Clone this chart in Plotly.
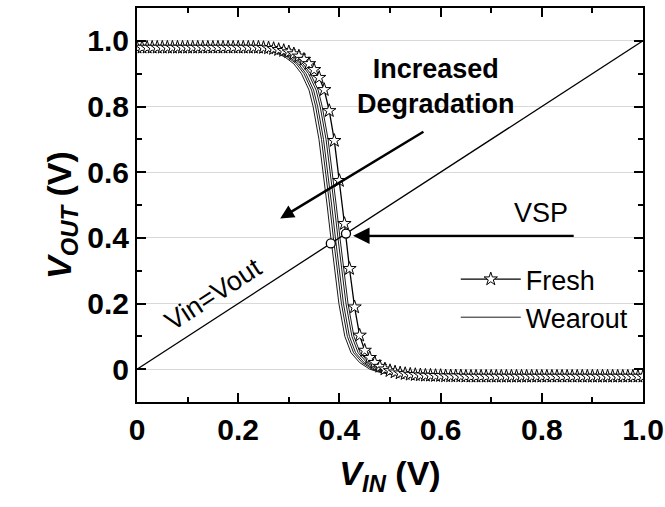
import plotly.graph_objects as go

# ---------------- data ----------------
fresh_vin = [0.00, 0.01, 0.02, 0.03, 0.04, 0.05, 0.06, 0.07, 0.08, 0.09,
             0.10, 0.11, 0.12, 0.13, 0.14, 0.15, 0.16, 0.17, 0.18, 0.19,
             0.20, 0.21, 0.22, 0.23, 0.24, 0.25, 0.26, 0.27, 0.28, 0.29,
             0.30, 0.31, 0.32, 0.33, 0.34, 0.35, 0.36, 0.37, 0.38, 0.39,
             0.40, 0.41, 0.42, 0.43, 0.44, 0.45, 0.46, 0.47, 0.48, 0.49,
             0.50, 0.51, 0.52, 0.53, 0.54, 0.55, 0.56, 0.57, 0.58, 0.59,
             0.60, 0.61, 0.62, 0.63, 0.64, 0.65, 0.66, 0.67, 0.68, 0.69,
             0.70, 0.71, 0.72, 0.73, 0.74, 0.75, 0.76, 0.77, 0.78, 0.79,
             0.80, 0.81, 0.82, 0.83, 0.84, 0.85, 0.86, 0.87, 0.88, 0.89,
             0.90, 0.91, 0.92, 0.93, 0.94, 0.95, 0.96, 0.97, 0.98, 0.99, 1.00]
fresh_vout = [0.980, 0.980, 0.980, 0.980, 0.980, 0.980, 0.980, 0.980, 0.980, 0.980,
              0.980, 0.980, 0.980, 0.980, 0.980, 0.980, 0.980, 0.980, 0.980, 0.980,
              0.980, 0.980, 0.980, 0.980, 0.980, 0.979, 0.978, 0.976, 0.973, 0.970,
              0.966, 0.960, 0.953, 0.943, 0.930, 0.912, 0.888, 0.851, 0.787, 0.696,
              0.574, 0.443, 0.306, 0.189, 0.103, 0.057, 0.035, 0.020, 0.008, 0.000,
              -0.005, -0.009, -0.012, -0.014, -0.016, -0.017, -0.018, -0.019, -0.019, -0.020,
              -0.020, -0.021, -0.021, -0.021, -0.021, -0.022, -0.022, -0.022, -0.022, -0.022,
              -0.022, -0.022, -0.022, -0.022, -0.022, -0.022, -0.022, -0.022, -0.022, -0.022,
              -0.022, -0.022, -0.022, -0.022, -0.022, -0.022, -0.022, -0.022, -0.022, -0.022,
              -0.022, -0.022, -0.022, -0.022, -0.022, -0.022, -0.022, -0.022, -0.022, -0.022, -0.022]

# Wearout curves: Vin at each Vout level
wear_vout = [0.980, 0.980, 0.975, 0.970, 0.960, 0.950, 0.930, 0.900, 0.850, 0.800,
             0.700, 0.600, 0.500, 0.400, 0.300, 0.200, 0.100, 0.050, 0.020, 0.000,
             -0.010, -0.015, -0.020, -0.022, -0.022]
wear1_vin = [0.0, 0.228, 0.258, 0.278, 0.298, 0.311, 0.328, 0.343, 0.358, 0.366,
             0.3776, 0.386, 0.3937, 0.4011, 0.4085, 0.417, 0.4287, 0.441, 0.458, 0.478,
             0.498, 0.518, 0.568, 0.668, 1.0]
wear2_vin = [0.0, 0.224, 0.254, 0.274, 0.294, 0.307, 0.324, 0.339, 0.354, 0.362,
             0.3736, 0.382, 0.3897, 0.3971, 0.4045, 0.413, 0.4247, 0.437, 0.454, 0.474,
             0.494, 0.514, 0.564, 0.664, 1.0]
wear3_vin = [0.0, 0.219, 0.249, 0.269, 0.289, 0.302, 0.319, 0.334, 0.349, 0.357,
             0.3686, 0.377, 0.3847, 0.3921, 0.3995, 0.408, 0.4197, 0.432, 0.449, 0.469,
             0.489, 0.509, 0.559, 0.659, 1.0]
wear4_vin = [0.0, 0.215, 0.245, 0.265, 0.285, 0.298, 0.315, 0.330, 0.345, 0.353,
             0.3646, 0.373, 0.3807, 0.3881, 0.3955, 0.404, 0.4157, 0.428, 0.445, 0.465,
             0.485, 0.505, 0.555, 0.655, 1.0]
wear5_vin = [0.0, 0.210, 0.240, 0.260, 0.280, 0.293, 0.310, 0.325, 0.340, 0.348,
             0.3596, 0.368, 0.3757, 0.3831, 0.3905, 0.399, 0.4107, 0.423, 0.440, 0.460,
             0.480, 0.500, 0.550, 0.650, 1.0]
wear_curves = [wear1_vin, wear2_vin, wear3_vin, wear4_vin, wear5_vin]

diag_x = [0.0, 1.0]
diag_y = [0.0, 1.0]

vsp_x = [0.383, 0.413]
vsp_y = [0.383, 0.413]

x_ticks = [0, 0.2, 0.4, 0.6, 0.8, 1.0]
x_ticktext = ["0", "0.2", "0.4", "0.6", "0.8", "1.0"]
y_ticks = [0, 0.2, 0.4, 0.6, 0.8, 1.0]
y_ticktext = ["0", "0.2", "0.4", "0.6", "0.8", "1.0"]
x_minor = [0.1, 0.3, 0.5, 0.7, 0.9]
y_minor = [-0.1, 0.1, 0.3, 0.5, 0.7, 0.9, 1.1]

FONT = "Liberation Sans, Arial, sans-serif"

fig = go.Figure()

fig.add_trace(go.Scatter(x=diag_x, y=diag_y, mode="lines",
                         line=dict(color="black", width=1.3),
                         showlegend=False, hoverinfo="skip"))

for i, wx in enumerate(wear_curves):
    fig.add_trace(go.Scatter(x=wx, y=wear_vout, mode="lines",
                             line=dict(color="black", width=0.9),
                             name="Wearout", legendgroup="w",
                             legendrank=2, showlegend=(i == 0)))

fig.add_trace(go.Scatter(x=fresh_vin, y=fresh_vout, mode="lines+markers",
                         line=dict(color="black", width=1.3),
                         marker=dict(symbol="star", size=10, color="white",
                                     line=dict(color="black", width=1)),
                         name="Fresh", legendgroup="f", legendrank=1))

fig.add_trace(go.Scatter(x=vsp_x, y=vsp_y, mode="markers",
                         marker=dict(symbol="circle", size=9, color="white",
                                     line=dict(color="black", width=1.3)),
                         showlegend=False))

axis_common = dict(
    showline=True, linecolor="black", linewidth=2, mirror="allticks",
    ticks="inside", ticklen=9, tickwidth=2, tickcolor="black",
    tickfont=dict(family=FONT, size=30, color="black", weight="bold"),
    zeroline=False, automargin=False,
)

fig.update_xaxes(
    range=[0, 1.0], tickmode="array", tickvals=x_ticks, ticktext=x_ticktext,
    showgrid=False,
    minor=dict(tickmode="array", tickvals=x_minor, ticks="inside", ticklen=5,
               tickwidth=2, tickcolor="black", showgrid=False),
    title=dict(text="<b><i>V</i><sub><i>IN</i></sub> (V)</b>",
               font=dict(family=FONT, size=34, color="black"), standoff=16),
    **axis_common)

fig.update_yaxes(
    range=[-0.1, 1.1], tickmode="array", tickvals=y_ticks, ticktext=y_ticktext,
    showgrid=True, gridcolor="#d9d9d9", gridwidth=1,
    minor=dict(tickmode="array", tickvals=y_minor, ticks="inside", ticklen=5,
               tickwidth=2, tickcolor="black", showgrid=False),
    **axis_common)

# y-axis title as a rotated annotation (placed slightly below plot centre as in the reference)
fig.add_annotation(x=-0.148, y=0.475, xref="paper", yref="paper",
                   xanchor="center", yanchor="middle",
                   text="<b><i>V</i><sub><i>OUT</i></sub> (V)</b>",
                   showarrow=False, textangle=-90,
                   font=dict(family=FONT, size=34, color="black"))

fig.add_annotation(x=0.591, y=0.862, xref="x", yref="y",
                   text="<b>Increased<br>Degradation</b>", showarrow=False,
                   font=dict(family=FONT, size=27, color="black"))
fig.add_annotation(x=0.283, y=0.459, ax=0.569, ay=0.726, xref="x", yref="y",
                   axref="x", ayref="y", text="", showarrow=True,
                   arrowhead=2, arrowsize=1.1, arrowwidth=2.5, arrowcolor="black")
fig.add_annotation(x=0.427, y=0.406, ax=0.866, ay=0.406, xref="x", yref="y",
                   axref="x", ayref="y", text="", showarrow=True,
                   arrowhead=2, arrowsize=1.5, arrowwidth=2.2, arrowcolor="black")
fig.add_annotation(x=0.798, y=0.475, xref="x", yref="y", text="VSP",
                   showarrow=False, font=dict(family=FONT, size=27, color="black"))
fig.add_annotation(x=0.152, y=0.228, xref="x", yref="y", text="Vin=Vout",
                   showarrow=False, textangle=-33,
                   font=dict(family=FONT, size=27, color="black"))

fig.update_layout(
    width=665, height=507,
    margin=dict(l=137, r=22, t=8, b=105),
    paper_bgcolor="white", plot_bgcolor="white",
    font=dict(family=FONT, color="black"),
    showlegend=True,
    legend=dict(x=0.63, y=0.373, xanchor="left", yanchor="top",
                bgcolor="rgba(0,0,0,0)", borderwidth=0,
                font=dict(family=FONT, size=27, color="black"),
                itemwidth=60, tracegroupgap=3, traceorder="normal"),
)

fig.write_html("out.html")
